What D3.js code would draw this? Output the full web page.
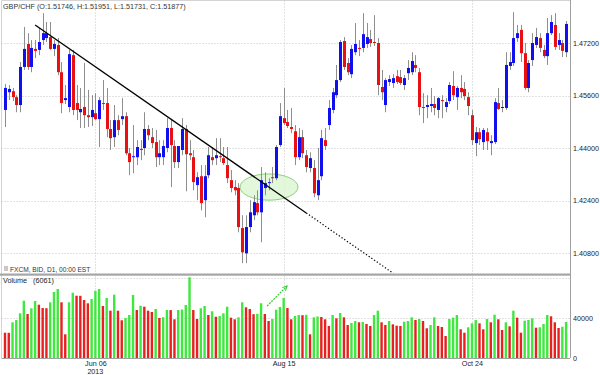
<!DOCTYPE html>
<html>
<head>
<meta charset="utf-8">
<script src="https://cdn.jsdelivr.net/npm/d3@7"></script>
<style>
body { margin: 0; background: #fff; }
svg { display: block; font-family: "Liberation Sans", Arial, sans-serif; }
</style>
</head>
<body>
<svg id="chart" width="600" height="375"></svg>
<script>
// daily GBP/CHF bars, 3 May 2013 .. 28 Nov 2013 (weekdays)
var openP = [
 1.4516,1.4570,1.4573,1.4555,1.4531,1.4647,1.4717,1.4647,1.4702,1.4699,
 1.4729,1.4735,1.4738,1.4702,1.4714,1.4631,1.4546,1.4525,1.4683,1.4537,
 1.4509,1.4525,1.4500,1.4494,1.4506,1.4488,1.4537,1.4537,1.4458,1.4433,
 1.4485,1.4488,1.4497,1.4384,1.4372,1.4372,1.4397,1.4400,1.4458,1.4433,
 1.4418,1.4372,1.4372,1.4400,1.4461,1.4406,1.4357,1.4394,1.4458,1.4384,
 1.4372,1.4287,1.4314,1.4241,1.4317,1.4372,1.4369,1.4375,1.4369,1.4348,
 1.4302,1.4281,1.4278,1.4156,1.4079,1.4159,1.4195,1.4232,1.4204,1.4278,
 1.4293,1.4311,1.4308,1.4409,1.4491,1.4479,1.4464,1.4451,1.4372,1.4433,
 1.4378,1.4339,1.4339,1.4256,1.4314,1.4424,1.4470,1.4516,1.4561,1.4607,
 1.4726,1.4659,1.4625,1.4692,1.4705,1.4705,1.4717,1.4732,1.4723,1.4720,
 1.4586,1.4531,1.4601,1.4598,1.4619,1.4616,1.4592,1.4628,1.4631,1.4653,
 1.4631,1.4525,1.4525,1.4528,1.4534,1.4516,1.4546,1.4525,1.4543,1.4589,
 1.4555,1.4583,1.4580,1.4555,1.4500,1.4415,1.4448,1.4418,1.4448,1.4415,
 1.4418,1.4537,1.4522,1.4522,1.4650,1.4659,1.4735,1.4760,1.4689,1.4583,
 1.4668,1.4714,1.4735,1.4699,1.4680,1.4750,1.4775,1.4714,1.4720,1.4692];
var highP = [
 1.4595,1.4592,1.4583,1.4561,1.4662,1.4769,1.4750,1.4729,1.4729,1.4766,
 1.4811,1.4784,1.4784,1.4729,1.4735,1.4662,1.4592,1.4699,1.4699,1.4592,
 1.4583,1.4659,1.4577,1.4561,1.4567,1.4555,1.4607,1.4583,1.4485,1.4531,
 1.4500,1.4552,1.4509,1.4400,1.4470,1.4424,1.4424,1.4509,1.4470,1.4461,
 1.4455,1.4424,1.4424,1.4491,1.4485,1.4424,1.4394,1.4491,1.4470,1.4424,
 1.4394,1.4326,1.4348,1.4348,1.4403,1.4403,1.4430,1.4430,1.4403,1.4403,
 1.4333,1.4302,1.4293,1.4195,1.4195,1.4241,1.4256,1.4271,1.4342,1.4326,
 1.4308,1.4342,1.4409,1.4537,1.4583,1.4516,1.4522,1.4470,1.4461,1.4455,
 1.4394,1.4387,1.4363,1.4400,1.4455,1.4461,1.4546,1.4583,1.4653,1.4729,
 1.4738,1.4674,1.4714,1.4781,1.4729,1.4811,1.4781,1.4760,1.4805,1.4735,
 1.4638,1.4613,1.4622,1.4625,1.4638,1.4638,1.4622,1.4668,1.4692,1.4683,
 1.4644,1.4567,1.4561,1.4583,1.4558,1.4555,1.4561,1.4552,1.4601,1.4634,
 1.4589,1.4622,1.4601,1.4570,1.4516,1.4464,1.4461,1.4461,1.4461,1.4439,
 1.4552,1.4583,1.4546,1.4692,1.4692,1.4814,1.4775,1.4775,1.4720,1.4668,
 1.4750,1.4766,1.4750,1.4714,1.4796,1.4805,1.4811,1.4750,1.4729,1.4787];
var lowP = [
 1.4464,1.4546,1.4543,1.4509,1.4509,1.4638,1.4638,1.4631,1.4674,1.4683,
 1.4714,1.4723,1.4699,1.4680,1.4622,1.4506,1.4534,1.4509,1.4500,1.4485,
 1.4461,1.4461,1.4464,1.4467,1.4485,1.4403,1.4516,1.4433,1.4394,1.4403,
 1.4439,1.4470,1.4378,1.4317,1.4323,1.4348,1.4363,1.4378,1.4424,1.4400,
 1.4342,1.4348,1.4348,1.4387,1.4281,1.4339,1.4339,1.4378,1.4268,1.4363,
 1.4271,1.4241,1.4210,1.4189,1.4308,1.4348,1.4348,1.4357,1.4348,1.4293,
 1.4265,1.4256,1.4143,1.4049,1.4049,1.4143,1.4180,1.4195,1.4113,1.4256,
 1.4271,1.4293,1.4302,1.4403,1.4470,1.4461,1.4445,1.4348,1.4363,1.4369,
 1.4326,1.4326,1.4250,1.4241,1.4302,1.4394,1.4455,1.4506,1.4552,1.4601,
 1.4638,1.4622,1.4613,1.4683,1.4680,1.4692,1.4705,1.4708,1.4711,1.4561,
 1.4546,1.4509,1.4589,1.4583,1.4595,1.4592,1.4577,1.4607,1.4622,1.4631,
 1.4500,1.4476,1.4491,1.4509,1.4500,1.4491,1.4491,1.4509,1.4534,1.4546,
 1.4516,1.4552,1.4546,1.4500,1.4409,1.4375,1.4409,1.4394,1.4394,1.4378,
 1.4412,1.4516,1.4509,1.4516,1.4638,1.4650,1.4723,1.4662,1.4577,1.4570,
 1.4650,1.4705,1.4692,1.4674,1.4653,1.4744,1.4699,1.4699,1.4677,1.4677];
var closeP = [
 1.4583,1.4580,1.4555,1.4531,1.4647,1.4702,1.4647,1.4705,1.4696,1.4723,
 1.4750,1.4750,1.4702,1.4717,1.4631,1.4537,1.4552,1.4686,1.4516,1.4516,
 1.4519,1.4500,1.4494,1.4516,1.4488,1.4546,1.4534,1.4458,1.4430,1.4485,
 1.4455,1.4497,1.4384,1.4357,1.4375,1.4403,1.4394,1.4458,1.4439,1.4415,
 1.4372,1.4384,1.4406,1.4461,1.4409,1.4357,1.4406,1.4458,1.4381,1.4378,
 1.4296,1.4311,1.4232,1.4314,1.4378,1.4363,1.4378,1.4372,1.4354,1.4308,
 1.4278,1.4271,1.4159,1.4082,1.4159,1.4204,1.4235,1.4204,1.4302,1.4293,
 1.4296,1.4308,1.4403,1.4497,1.4476,1.4467,1.4458,1.4372,1.4433,1.4384,
 1.4342,1.4369,1.4262,1.4302,1.4430,1.4406,1.4522,1.4570,1.4607,1.4723,
 1.4647,1.4631,1.4702,1.4717,1.4702,1.4747,1.4738,1.4720,1.4720,1.4592,
 1.4570,1.4607,1.4610,1.4613,1.4601,1.4598,1.4613,1.4644,1.4665,1.4644,
 1.4525,1.4522,1.4531,1.4534,1.4522,1.4552,1.4543,1.4540,1.4592,1.4561,
 1.4583,1.4570,1.4558,1.4528,1.4424,1.4448,1.4427,1.4455,1.4421,1.4421,
 1.4540,1.4519,1.4525,1.4653,1.4662,1.4735,1.4750,1.4689,1.4583,1.4659,
 1.4720,1.4738,1.4705,1.4680,1.4750,1.4784,1.4708,1.4729,1.4696,1.4778];
var volume = [
 25300,25200,35700,38000,44700,57300,44000,49700,57000,53300,
 50000,49800,55700,66000,69000,55700,23700,55700,65300,62300,
 62200,58000,54700,59000,67300,69000,52000,60000,47300,63300,
 47300,37700,40000,43000,63000,48000,52300,51300,47300,46000,
 49000,40000,40700,48000,47900,38700,48000,48500,53000,80700,
 48000,39000,49700,52000,43000,46700,41300,42000,44700,51300,
 40300,38700,40700,55700,50700,49000,43800,44200,54700,44000,
 37000,39000,48300,51000,60000,50000,38700,42000,43000,42800,
 43200,23700,40700,41500,41000,38700,32000,43000,39700,45000,
 40700,33000,35000,37000,35700,36000,34000,32000,43000,47300,
 35700,33000,37000,33700,32300,32000,36300,37000,40700,38000,
 39000,37000,29700,33000,40700,32000,31000,22000,39000,40300,
 43000,28700,25300,30700,34700,38000,34700,28700,39000,35700,
 43300,38700,28000,35700,31700,47300,40300,25300,37300,38000,
 39700,30300,30700,34000,43000,41700,35700,30000,31300,36000];

var firstDay = "2013-05-03";
var dateTicks = ["2013-06-06", "2013-08-15", "2013-10-24"];
var priceTicks = [1.408, 1.424, 1.440, 1.456, 1.472];
var volumeTicks = [0, 40000];
var volumeGrid = [40000, 80000];

// drawings on the chart: [bar index, price] / [bar index, volume]
var trendSolid = [[8, 1.4775], [80, 1.4202]];
var trendDotted = [[80, 1.4202], [104, 1.4011]];
var circleMark = {i: 70.1, price: 1.4281, di: 7.7, dp: 0.004};
var volArrow = [[69.6, 52000], [74.9, 72000]];

var title = "GBP/CHF (O:1.51746, H:1.51951, L:1.51731, C:1.51877)";
var feedLabel = "FXCM, BID, D1, 00:00 EST";

var L = 1.5, R = 570, mainTop = 0.5, mainBottom = 273, volTop = 276, volBottom = 358;
var upColor = "#1010ee", downColor = "#e81010";
var volUp = "#3ee83e", volDown = "#e82020";

var svg = d3.select("#chart");

var x = d3.scaleLinear().domain([0, openP.length - 1]).range([5, 566.1]);
var y = d3.scaleLinear().domain([1.408, 1.472]).range([253, 43]);
var yv = d3.scaleLinear().domain([0, 82000]).range([volBottom, volTop]);

var parse = d3.timeParse("%Y-%m-%d");
var days = d3.timeDays(parse(firstDay), new Date(2014, 0, 1))
  .filter(function(d){ return d.getDay() !== 0 && d.getDay() !== 6; })
  .slice(0, openP.length);
function dateIndex(s) {
  var t = +parse(s);
  return days.findIndex(function(d){ return +d === t; });
}
var idx = d3.range(openP.length);

svg.append("defs").append("clipPath").attr("id", "clipMain")
  .append("rect").attr("x", L).attr("y", mainTop).attr("width", R - L).attr("height", mainBottom - mainTop);
svg.select("defs").append("marker")
  .attr("id", "arrowHead").attr("viewBox", "0 0 8 8").attr("refX", 7).attr("refY", 4)
  .attr("markerWidth", 6).attr("markerHeight", 6).attr("markerUnits", "userSpaceOnUse").attr("orient", "auto")
  .append("path").attr("d", "M1,1 L7,4 L1,7").attr("fill", "none").attr("stroke", "#33cc33").attr("stroke-width", 1.3);

// frames
svg.append("line").attr("x1", L).attr("x2", L).attr("y1", mainTop).attr("y2", volBottom).attr("stroke", "#d4d4d4");
svg.append("line").attr("x1", L).attr("x2", R).attr("y1", mainTop).attr("y2", mainTop).attr("stroke", "#d4d4d4");

// grid
var grid = svg.append("g").attr("stroke", "#c4c4c4").attr("stroke-dasharray", "1,2");
grid.selectAll(".hgrid").data(priceTicks).join("line")
  .attr("x1", L).attr("x2", R)
  .attr("y1", function(d){ return Math.round(y(d)) + 0.5; })
  .attr("y2", function(d){ return Math.round(y(d)) + 0.5; });
grid.selectAll(".vgrid").data(volumeGrid).join("line")
  .attr("x1", L).attr("x2", R)
  .attr("y1", function(d){ return Math.round(yv(d)) + 0.5; })
  .attr("y2", function(d){ return Math.round(yv(d)) + 0.5; });
grid.selectAll(".dgrid").data(dateTicks).join("line")
  .attr("x1", function(d){ return Math.round(x(dateIndex(d))) + 0.5; })
  .attr("x2", function(d){ return Math.round(x(dateIndex(d))) + 0.5; })
  .attr("y1", mainTop).attr("y2", volBottom);

// ellipse drawn behind the bars
svg.append("ellipse")
  .attr("cx", x(circleMark.i)).attr("cy", y(circleMark.price))
  .attr("rx", x(circleMark.di) - x(0))
  .attr("ry", Math.abs(y(circleMark.price + circleMark.dp) - y(circleMark.price)))
  .attr("fill", "#dcf5d2").attr("fill-opacity", 0.8)
  .attr("stroke", "#8fcf80").attr("stroke-width", 1);

// candles
var gC = svg.append("g").attr("clip-path", "url(#clipMain)");
gC.selectAll(".wick").data(idx).join("line")
  .attr("x1", function(i){ return Math.round(x(i)) + 0.5; })
  .attr("x2", function(i){ return Math.round(x(i)) + 0.5; })
  .attr("y1", function(i){ return y(highP[i]); })
  .attr("y2", function(i){ return y(lowP[i]); })
  .attr("stroke", "#8e8e8e").attr("stroke-width", 1);
gC.selectAll(".body").data(idx).join("rect")
  .attr("x", function(i){ return Math.round(x(i)) - 1; })
  .attr("width", 3)
  .attr("y", function(i){ return y(Math.max(openP[i], closeP[i])); })
  .attr("height", function(i){ return Math.max(1, Math.abs(y(openP[i]) - y(closeP[i]))); })
  .attr("fill", function(i){ return closeP[i] >= openP[i] ? upColor : downColor; });

// trend line
var trend = d3.line().x(function(d){ return x(d[0]); }).y(function(d){ return y(d[1]); });
gC.append("path").attr("d", trend(trendSolid)).attr("fill", "none").attr("stroke", "#000").attr("stroke-width", 1.3);
gC.append("path").attr("d", trend(trendDotted)).attr("fill", "none").attr("stroke", "#000")
  .attr("stroke-width", 1.2).attr("stroke-dasharray", "1.3,2");

// panel separator and right edge
svg.append("rect").attr("x", 0).attr("y", 273.5).attr("width", R).attr("height", 2.2).attr("fill", "#a6a6a6");
svg.append("line").attr("x1", R + 0.5).attr("x2", R + 0.5).attr("y1", 0).attr("y2", volBottom).attr("stroke", "#a0a0a0");

// volume
svg.append("g").selectAll("rect").data(idx).join("rect")
  .attr("x", function(i){ return x(i) - 1.2; })
  .attr("width", 2.4)
  .attr("y", function(i){ return yv(volume[i]); })
  .attr("height", function(i){ return volBottom - yv(volume[i]); })
  .attr("fill", function(i){ return i > 0 && volume[i] > volume[i - 1] ? volUp : volDown; });
svg.append("line").attr("x1", L).attr("x2", R).attr("y1", volBottom + 0.5).attr("y2", volBottom + 0.5).attr("stroke", "#a0a0a0");

svg.append("path")
  .attr("d", d3.line().x(function(d){ return x(d[0]); }).y(function(d){ return yv(d[1]); })(volArrow))
  .attr("fill", "none").attr("stroke", "#33cc33").attr("stroke-width", 1.2)
  .attr("stroke-dasharray", "2,1").attr("marker-end", "url(#arrowHead)");

// axes
var axP = svg.append("g").attr("transform", "translate(" + R + ",0)")
  .call(d3.axisRight(y).tickValues(priceTicks).tickFormat(d3.format(".5f")).tickSize(0).tickPadding(3));
var axV = svg.append("g").attr("transform", "translate(" + R + ",0)")
  .call(d3.axisRight(yv).tickValues(volumeTicks).tickFormat(d3.format("d")).tickSize(0).tickPadding(3));
var fmt = d3.timeFormat("%b %d");
var axD = svg.append("g").attr("transform", "translate(0," + volBottom + ")")
  .call(d3.axisBottom(x).tickValues(dateTicks.map(dateIndex))
    .tickFormat(function(i){ return fmt(days[i]); }).tickSize(0).tickPadding(3));
[axP, axV, axD].forEach(function(a){
  a.select(".domain").remove();
  a.attr("font-family", "Liberation Sans, Arial, sans-serif").attr("font-size", 7.2);
  a.selectAll("text").attr("fill", "#222");
});
svg.append("text").attr("x", x(dateIndex(dateTicks[0]))).attr("y", 374)
  .attr("text-anchor", "middle").attr("font-size", 7.2).attr("fill", "#222")
  .text(d3.timeFormat("%Y")(parse(dateTicks[0])));

// labels
svg.append("text").attr("x", 3).attr("y", 9).attr("font-size", 7.2).attr("fill", "#333").text(title);
svg.append("rect").attr("x", 4).attr("y", 266).attr("width", 4).attr("height", 5).attr("fill", "#c8c8c8");
svg.append("text").attr("x", 10).attr("y", 271.5).attr("font-size", 6.6).attr("fill", "#333").text(feedLabel);
svg.append("text").attr("x", 3).attr("y", 283).attr("font-size", 7.2).attr("fill", "#222").text("Volume");
svg.append("text").attr("x", 33).attr("y", 283).attr("font-size", 7.2).attr("fill", "#222").text("(" + d3.format("d")(6061) + ")");
</script>
</body>
</html>
